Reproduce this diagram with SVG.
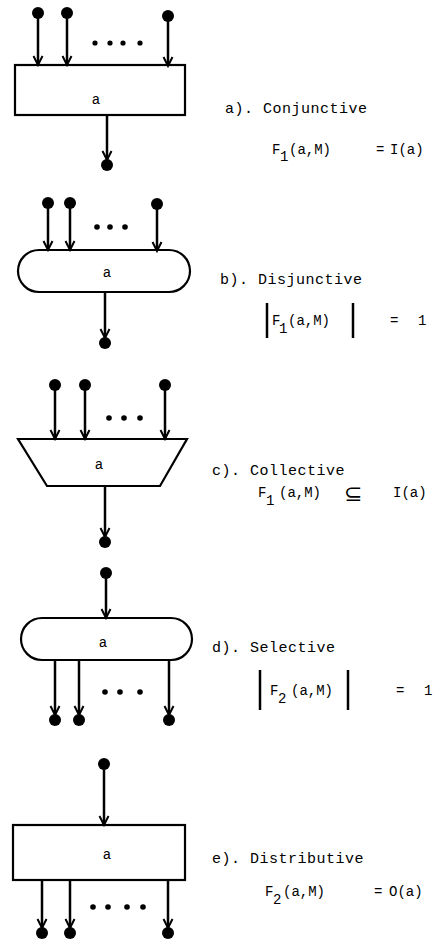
<svg xmlns="http://www.w3.org/2000/svg" width="436" height="941" viewBox="0 0 436 941">
<defs>
<marker id="ah" viewBox="-11 -7 13 14" markerWidth="13" markerHeight="14" refX="0" refY="0" orient="auto" markerUnits="userSpaceOnUse">
<path d="M-9,-4.5 L0,0 L-9,4.5" fill="none" stroke="#000" stroke-width="2"/>
</marker>
<style>
.n{fill:#fff;stroke:#000;stroke-width:2.2}
.c line{stroke:#000;stroke-width:2.5;marker-end:url(#ah)}
.d{fill:#000}
.e{fill:#000}
text{font-family:"Liberation Mono","DejaVu Sans Mono",monospace;fill:#000}
.lb{font-size:15px;letter-spacing:0.5px}
.f{font-size:14px}
.s{font-size:14px}
.nl{font-size:14px;text-anchor:middle}
.bar{stroke:#000;stroke-width:2.5}
</style>
</defs>
<rect width="436" height="941" fill="#fff"/>

<!-- a) Conjunctive -->
<g id="nodeA">
<rect class="n" x="15" y="65" width="170" height="50"/>
<text class="nl" x="96" y="104">a</text>
</g>
<!-- b) Disjunctive -->
<g id="nodeB">
<rect class="n" x="18" y="250" width="172" height="42" rx="21" ry="21"/>
<text class="nl" x="107" y="277">a</text>
</g>
<!-- c) Collective -->
<g id="nodeC">
<polygon class="n" points="18,439 187,439 160,486 47,486"/>
<text class="nl" x="99" y="469">a</text>
</g>
<!-- d) Selective -->
<g id="nodeD">
<rect class="n" x="21" y="618" width="171" height="42" rx="21" ry="21"/>
<text class="nl" x="103" y="647">a</text>
</g>
<!-- e) Distributive -->
<g id="nodeE">
<rect class="n" x="13" y="825" width="172" height="55"/>
<text class="nl" x="107" y="859">a</text>
</g>

<g id="connectors" class="c">
<line x1="38" y1="13" x2="38" y2="65"/>
<line x1="67" y1="13" x2="67" y2="65"/>
<line x1="168" y1="16" x2="168" y2="66"/>
<line x1="107" y1="115" x2="107" y2="160"/>

<line x1="48" y1="203" x2="48" y2="250"/>
<line x1="70" y1="203" x2="70" y2="250"/>
<line x1="157" y1="204" x2="157" y2="251"/>
<line x1="105" y1="292" x2="105" y2="338"/>

<line x1="55" y1="385" x2="55" y2="439"/>
<line x1="85" y1="385" x2="85" y2="439"/>
<line x1="165" y1="385" x2="165" y2="439"/>
<line x1="105" y1="486" x2="105" y2="537"/>

<line x1="106" y1="573" x2="106" y2="618"/>
<line x1="55" y1="660" x2="55" y2="715"/>
<line x1="79" y1="660" x2="79" y2="715"/>
<line x1="169" y1="660" x2="169" y2="715"/>

<line x1="104" y1="764" x2="104" y2="825"/>
<line x1="42" y1="880" x2="42" y2="928"/>
<line x1="70" y1="880" x2="70" y2="928"/>
<line x1="168" y1="880" x2="168" y2="928"/>
</g>

<g id="terminals" class="d">
<circle cx="38" cy="13" r="6"/><circle cx="67" cy="13" r="6"/><circle cx="168" cy="16" r="6"/><circle cx="107" cy="165" r="6"/>
<circle cx="48" cy="203" r="6"/><circle cx="70" cy="203" r="6"/><circle cx="157" cy="204" r="6"/><circle cx="105" cy="343" r="6"/>
<circle cx="55" cy="385" r="6"/><circle cx="85" cy="385" r="6"/><circle cx="165" cy="385" r="6"/><circle cx="105" cy="542" r="6"/>
<circle cx="106" cy="573" r="6"/><circle cx="55" cy="720" r="6"/><circle cx="79" cy="720" r="6"/><circle cx="169" cy="720" r="6"/>
<circle cx="104" cy="764" r="6"/><circle cx="42" cy="933" r="6"/><circle cx="70" cy="933" r="6"/><circle cx="168" cy="933" r="6"/>
</g>

<g id="ellipses" class="e">
<circle cx="95" cy="43" r="2.6"/><circle cx="110" cy="43" r="2.6"/><circle cx="123" cy="43" r="2.6"/><circle cx="140" cy="43" r="2.6"/>
<circle cx="97" cy="227" r="2.8"/><circle cx="110" cy="227" r="2.8"/><circle cx="125" cy="227" r="2.8"/>
<circle cx="109" cy="418" r="2.8"/><circle cx="124" cy="418" r="2.8"/><circle cx="140" cy="418" r="2.8"/>
<circle cx="105" cy="692" r="2.8"/><circle cx="120" cy="692" r="2.8"/><circle cx="140" cy="692" r="2.8"/>
<circle cx="93" cy="907" r="2.8"/><circle cx="108" cy="907" r="2.8"/><circle cx="127" cy="907" r="2.8"/><circle cx="143" cy="907" r="2.8"/>
</g>

<g id="labelA">
<text class="lb" x="225" y="113">a). Conjunctive</text>
<text class="f" x="272" y="154">F</text><text class="s" x="280" y="161">1</text>
<text class="f" x="289" y="154">(a,M)</text>
<text class="f" x="376" y="154">=</text>
<text class="f" x="390" y="154">I(a)</text>
</g>
<g id="labelB">
<text class="lb" x="220" y="284">b). Disjunctive</text>
<line class="bar" x1="267" y1="303" x2="267" y2="338"/>
<line class="bar" x1="353" y1="303" x2="353" y2="338"/>
<text class="f" x="272" y="325">F</text><text class="s" x="279" y="333">1</text>
<text class="f" x="288" y="325">(a,M)</text>
<text class="f" x="390" y="325">=</text>
<text class="f" x="418" y="325">1</text>
</g>
<g id="labelC">
<text class="lb" x="212" y="475">c). Collective</text>
<text class="f" x="258" y="497">F</text><text class="s" x="266" y="505">1</text>
<text class="f" x="279" y="497">(a,M)</text>
<text class="f" x="344" y="501" style="font-size:22px;font-family:'DejaVu Sans',sans-serif">⊆</text>
<text class="f" x="393" y="497">I(a)</text>
</g>
<g id="labelD">
<text class="lb" x="212" y="652">d). Selective</text>
<line class="bar" x1="260" y1="670" x2="260" y2="710"/>
<line class="bar" x1="348" y1="670" x2="348" y2="710"/>
<text class="f" x="270" y="695">F</text><text class="s" x="278" y="703">2</text>
<text class="f" x="291" y="695">(a,M)</text>
<text class="f" x="396" y="695">=</text>
<text class="f" x="424" y="695">1</text>
</g>
<g id="labelE">
<text class="lb" x="212" y="863">e). Distributive</text>
<text class="f" x="265" y="896">F</text><text class="s" x="273" y="904">2</text>
<text class="f" x="283" y="896">(a,M)</text>
<text class="f" x="374" y="896">=</text>
<text class="f" x="389" y="896">O(a)</text>
</g>
</svg>
